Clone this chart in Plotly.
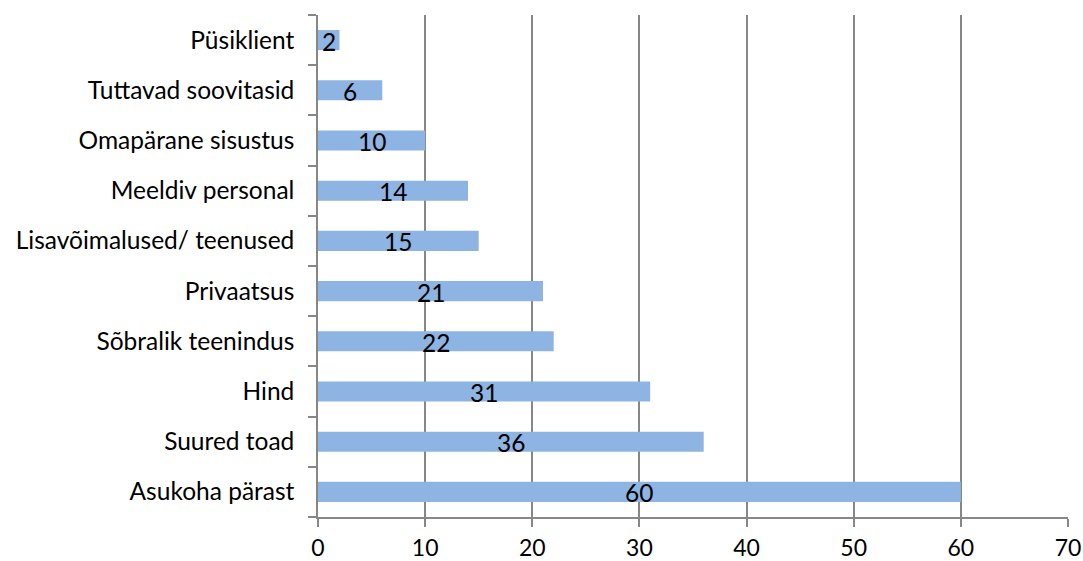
import plotly.graph_objects as go

categories = ["Asukoha pärast", "Suured toad", "Hind", "Sõbralik teenindus", "Privaatsus",
              "Lisavõimalused/ teenused", "Meeldiv personal", "Omapärane sisustus",
              "Tuttavad soovitasid", "Püsiklient"]
values = [60, 36, 31, 22, 21, 15, 14, 10, 6, 2]
x_ticks = [0, 10, 20, 30, 40, 50, 60, 70]

FONT = "Lato"
FS = 24.5

fig = go.Figure(go.Bar(
    x=values, y=categories, orientation="h",
    marker=dict(color="#8EB4E3", line=dict(width=0)),
    width=0.4,
    hoverinfo="x+y",
))

for c, v in zip(categories, values):
    fig.add_annotation(x=v / 2, y=c, text=str(v), showarrow=False, yshift=-1,
                       font=dict(family=FONT, size=FS, color="black"))

fig.update_layout(
    width=1083, height=561,
    margin=dict(l=318, r=15, t=15, b=44, autoexpand=False),
    paper_bgcolor="white", plot_bgcolor="white",
    showlegend=False,
    font=dict(family=FONT, size=FS, color="black"),
    xaxis=dict(range=[0, 70], tickvals=x_ticks, showgrid=True, gridcolor="#878787", gridwidth=1.5,
               showline=True, linecolor="#878787", linewidth=1.5, automargin=False,
               ticks="outside", ticklen=8, tickcolor="#878787", tickwidth=1.5, zeroline=False,
               tickfont=dict(size=23), ticklabelstandoff=2),
    yaxis=dict(type="category", categoryorder="array", categoryarray=categories,
               showline=True, linecolor="#878787", linewidth=1.5, automargin=False,
               ticks="outside", ticklen=8, tickcolor="#878787", tickwidth=1.5, tickson="boundaries",
               showgrid=False, ticklabelstandoff=17),
)

fig.write_html("out.html")
